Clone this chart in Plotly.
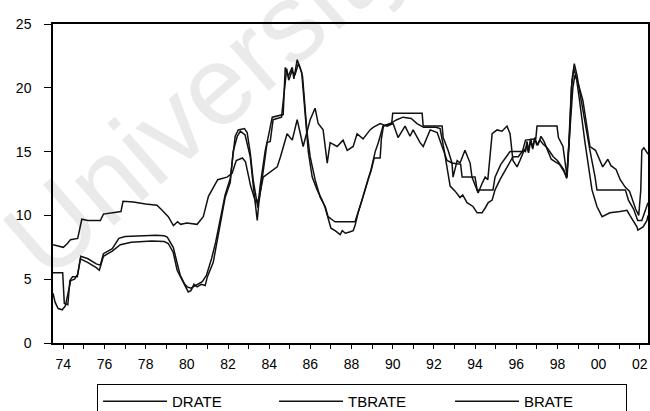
import plotly.graph_objects as go

# ---------------- data (decimal year, percent) ----------------
drate_x = [1973.5, 1973.97, 1974.05, 1974.22, 1974.32, 1974.45, 1974.68, 1974.85, 1975.2, 1975.6,
           1975.8, 1975.95, 1976.38, 1976.7, 1977.0, 1977.8, 1978.5, 1978.9, 1979.05, 1979.34,
           1979.53, 1979.68, 1979.9, 1980.02, 1980.2, 1980.5, 1980.75, 1980.95, 1981.2, 1981.4,
           1981.62, 1981.86, 1982.11, 1982.2, 1982.35, 1982.5, 1982.8, 1982.93, 1983.08, 1983.22,
           1983.37, 1983.45, 1983.56, 1983.81, 1983.96, 1984.15, 1984.68, 1984.78, 1984.92, 1985.12,
           1985.2, 1985.36, 1985.5, 1985.62, 1985.84, 1985.99, 1986.23, 1986.48, 1986.72, 1986.86,
           1987.11, 1987.2, 1988.17, 1988.32, 1988.51, 1988.8, 1988.95, 1989.1, 1989.39, 1989.45,
           1989.55, 1989.95, 1990.0, 1991.43, 1991.48, 1992.4, 1992.45, 1992.69, 1992.88, 1993.3,
           1993.37, 1994.0, 1994.1, 1994.87, 1994.97, 1995.25, 1995.7, 1996.3, 1996.45, 1996.95,
           1997.01, 1997.98, 1998.05, 1998.27, 1998.47, 1998.58, 1998.7, 1998.82, 1998.95, 1999.05,
           1999.34, 1999.58, 1999.83, 1999.92, 2001.3, 2001.45, 2001.7, 2001.9, 2002.1, 2002.3,
           2002.4]
drate_y = [5.5, 5.5, 3.1, 3.0, 4.9, 5.2, 5.2, 6.8, 6.6, 6.2,
           6.1, 7.0, 7.4, 8.2, 8.35, 8.4, 8.45, 8.4, 8.3, 7.5,
           6.2, 5.3, 4.6, 4.4, 4.3, 4.6, 4.8, 5.3, 6.6, 7.9,
           9.6, 11.6, 12.9, 14.3, 16.2, 16.7, 16.8, 16.5, 14.9, 12.8,
           11.2, 10.6, 12.3, 15.1, 16.2, 17.7, 17.9, 21.6, 20.9, 21.6,
           20.7, 22.2, 21.6, 20.9, 16.5, 14.6, 12.8, 11.4, 10.7, 9.9,
           9.6, 9.5, 9.5, 10.2, 11.2, 12.8, 13.5, 14.5, 14.5, 16.0,
           17.0, 17.2, 18.0, 18.0, 17.0, 17.0, 16.1, 15.1, 14.1, 14.0,
           13.0, 13.0, 12.0, 12.0, 13.0, 14.0, 15.0, 15.0, 15.9, 16.0,
           17.0, 17.0, 16.1, 15.4, 13.0, 16.0, 20.5, 21.9, 21.0, 20.0,
           17.2, 15.1, 13.0, 12.0, 12.0, 11.2, 10.5, 9.6, 9.6, 10.5,
           11.0]

tbrate_x = [1973.5, 1973.6, 1973.75, 1973.95, 1974.1, 1974.25, 1974.36, 1974.55, 1974.7, 1974.83,
            1975.2, 1975.6, 1975.75, 1975.95, 1976.38, 1976.77, 1977.3, 1978.3, 1978.9, 1979.1,
            1979.34, 1979.53, 1979.83, 1980.07, 1980.2, 1980.35, 1980.5, 1980.7, 1980.89, 1981.0,
            1981.28, 1981.48, 1981.62, 1981.86, 1982.11, 1982.25, 1982.45, 1982.6, 1982.83, 1983.08,
            1983.25, 1983.42, 1983.5, 1983.7, 1983.9, 1984.05, 1984.19, 1984.6, 1984.75, 1984.85,
            1984.95, 1985.1, 1985.25, 1985.42, 1985.58, 1985.72, 1985.9, 1986.09, 1986.33, 1986.57,
            1986.72, 1986.86, 1987.0, 1987.2, 1987.45, 1987.55, 1987.7, 1987.9, 1988.08, 1988.17,
            1988.32, 1988.51, 1988.76, 1988.95, 1989.15, 1989.3, 1989.53, 1989.87, 1990.2, 1990.5,
            1990.9, 1991.18, 1991.5, 1992.1, 1992.3, 1992.5, 1992.79, 1993.03, 1993.27, 1993.4,
            1993.61, 1993.9, 1994.1, 1994.34, 1994.5, 1994.64, 1994.83, 1994.97, 1995.21, 1995.55,
            1995.84, 1996.1, 1996.33, 1996.45, 1996.52, 1996.6, 1996.7, 1996.8, 1996.9, 1997.0,
            1997.15, 1997.3, 1997.5, 1997.8, 1998.0, 1998.3, 1998.45, 1998.55, 1998.68, 1998.8,
            1998.92, 1999.05, 1999.34, 1999.68, 1999.92, 2000.17, 2000.55, 2001.04, 2001.38, 2001.52,
            2001.86, 2001.91, 2002.16, 2002.35, 2002.4]
tbrate_y = [3.9, 3.2, 2.7, 2.6, 2.9, 4.2, 4.9, 5.0, 5.4, 6.6,
            6.3, 5.9, 5.7, 6.8, 7.2, 7.7, 7.9, 8.0, 7.95, 7.8,
            7.1, 5.7, 4.7, 4.0, 4.1, 4.6, 4.4, 4.6, 4.5, 5.2,
            6.3, 8.0, 9.3, 11.4, 12.6, 15.0, 16.2, 16.6, 16.3, 14.6,
            12.0, 9.6, 11.0, 13.5, 15.7, 15.8, 17.5, 17.7, 20.3, 21.5,
            20.6, 21.3, 21.0, 21.9, 21.2, 18.5, 15.0, 13.0, 12.0, 11.2,
            10.6, 9.8, 9.0, 8.8, 8.5, 8.8, 8.6, 8.7, 8.8, 9.2,
            10.2, 11.2, 12.6, 13.6, 15.0, 15.7, 17.0, 17.2, 17.5, 17.7,
            17.6, 17.2, 16.9, 16.9, 16.8, 15.1, 12.3, 11.9, 11.4, 11.6,
            11.0, 10.7, 10.2, 10.2, 10.6, 11.0, 11.2, 12.0, 12.8, 13.8,
            14.6, 14.6, 15.1, 15.0, 15.8, 15.1, 16.0, 15.3, 16.1, 15.5,
            15.9, 15.6, 15.3, 14.6, 14.3, 13.6, 12.9, 15.5, 20.0, 21.5,
            20.8, 19.3, 15.7, 12.0, 10.7, 9.9, 10.2, 10.3, 10.4, 10.0,
            9.1, 8.85, 9.1, 9.6, 10.0]

brate_x = [1973.5, 1973.7, 1974.0, 1974.2, 1974.35, 1974.7, 1974.9, 1975.2, 1975.8, 1975.95,
           1976.4, 1976.8, 1976.9, 1977.4, 1978.0, 1978.55, 1978.8, 1979.1, 1979.35, 1979.55,
           1979.7, 1980.0, 1980.5, 1980.8, 1981.05, 1981.5, 1981.95, 1982.2, 1982.4, 1982.7,
           1982.85, 1983.1, 1983.35, 1983.5, 1983.71, 1984.19, 1984.39, 1984.55, 1984.87, 1985.12,
           1985.36, 1985.5, 1985.65, 1985.99, 1986.23, 1986.38, 1986.62, 1986.82, 1986.96, 1987.3,
           1987.59, 1987.79, 1988.08, 1988.27, 1988.56, 1988.9, 1989.05, 1989.39, 1989.73, 1990.02,
           1990.26, 1990.6, 1990.84, 1990.99, 1991.33, 1991.48, 1991.67, 1991.82, 1992.16, 1992.45,
           1992.64, 1992.88, 1992.93, 1993.13, 1993.27, 1993.51, 1993.76, 1993.85, 1994.15, 1994.34,
           1994.49, 1994.62, 1994.83, 1995.07, 1995.31, 1995.55, 1995.7, 1995.84, 1996.04, 1996.18,
           1996.33, 1996.5, 1996.6, 1996.7, 1996.8, 1996.9, 1997.05, 1997.2, 1997.35, 1997.55,
           1997.7, 1997.9, 1998.1, 1998.3, 1998.45, 1998.6, 1998.75, 1998.85, 1999.0, 1999.24,
           1999.58, 1999.85, 2000.05, 2000.2, 2000.45, 2000.6, 2000.85, 2001.05, 2001.3, 2001.5,
           2001.65, 2001.8, 2001.95, 2002.05, 2002.1, 2002.2, 2002.4]
brate_y = [7.7, 7.6, 7.5, 7.8, 8.1, 8.2, 9.7, 9.6, 9.6, 10.1,
           10.2, 10.3, 11.1, 11.05, 10.9, 10.8, 10.4, 9.9, 9.2, 9.5,
           9.3, 9.4, 9.3, 9.9, 11.5, 12.8, 13.0, 13.3, 14.3, 14.5,
           14.2, 12.3, 11.0, 11.3, 13.0, 13.6, 13.8, 14.6, 16.4, 15.9,
           17.5, 16.5, 15.4, 17.5, 18.4, 17.2, 16.7, 14.1, 15.7, 15.4,
           15.9, 15.1, 15.4, 16.4, 16.0, 16.7, 16.9, 17.2, 17.0, 17.2,
           16.1, 17.0, 16.2, 16.7, 15.7, 15.4, 16.1, 16.7, 16.5, 15.1,
           14.3, 14.1, 13.0, 14.3, 14.1, 15.1, 14.1, 13.0, 11.75, 12.5,
           13.0, 12.8, 16.4, 16.7, 16.6, 17.0, 16.4, 14.3, 13.8, 14.3,
           14.9, 15.4, 14.9, 15.9, 15.2, 16.0, 15.5, 16.2, 15.8, 15.0,
           14.4, 14.2, 14.0, 13.5, 13.0, 16.5, 20.0, 21.0, 20.4, 19.0,
           15.4, 15.1, 14.3, 13.8, 14.4, 13.9, 13.6, 12.8, 12.2, 11.9,
           11.2, 10.5, 10.0, 12.0, 15.1, 15.3, 14.8]

year_ticks = list(range(1974, 2003))
year_labels = [f"{y % 100:02d}" if y % 2 == 0 else "" for y in year_ticks]
y_ticks = [0, 5, 10, 15, 20, 25]

FONT = "Arial, Liberation Sans, Helvetica, sans-serif"
LINE = "#111111"

fig = go.Figure()
for name, xs, ys in [("DRATE", drate_x, drate_y),
                     ("TBRATE", tbrate_x, tbrate_y),
                     ("BRATE", brate_x, brate_y)]:
    fig.add_trace(go.Scatter(x=xs, y=ys, mode="lines", name=name,
                             line=dict(color=LINE, width=1.5)))

# faint scanned watermark, drawn beneath the data
fig.add_shape(type="line", xref="paper", yref="paper",
              x0=0.147, y0=0.709, x1=0.347, y1=0.909,
              line=dict(color="rgba(0,0,0,0)", width=0), layer="below",
              label=dict(text="University", textposition="middle", yanchor="middle",
                         textangle=-41,
                         font=dict(family=FONT, size=112, color="#eaeaea")))

fig.update_layout(
    width=650, height=411,
    margin=dict(l=53, r=2, t=24, b=68, autoexpand=False),
    paper_bgcolor="white", plot_bgcolor="white",
    font=dict(family=FONT, size=13, color="black"),
    showlegend=True,
    legend=dict(orientation="h", x=0.074, xanchor="left", y=-0.1285, yanchor="top",
                bordercolor="black", borderwidth=1, entrywidth=97, itemwidth=64,
                font=dict(family=FONT, size=15, color="black")),
)
fig.update_xaxes(range=[1973.5, 2002.4], tickvals=year_ticks, ticktext=year_labels,
                 ticks="outside", ticklen=4, tickcolor="black", tickwidth=1,
                 showline=True, linecolor="black", linewidth=1.5, mirror=True,
                 showgrid=False, zeroline=False, ticklabelstandoff=3,
                 tickfont=dict(size=14))
fig.update_yaxes(range=[0, 25], tickvals=y_ticks,
                 ticks="outside", ticklen=7, tickcolor="black", tickwidth=1,
                 showline=True, linecolor="black", linewidth=1.5, mirror=True,
                 showgrid=False, zeroline=False, ticklabelstandoff=10,
                 tickfont=dict(size=14))

fig.write_html("out.html")
